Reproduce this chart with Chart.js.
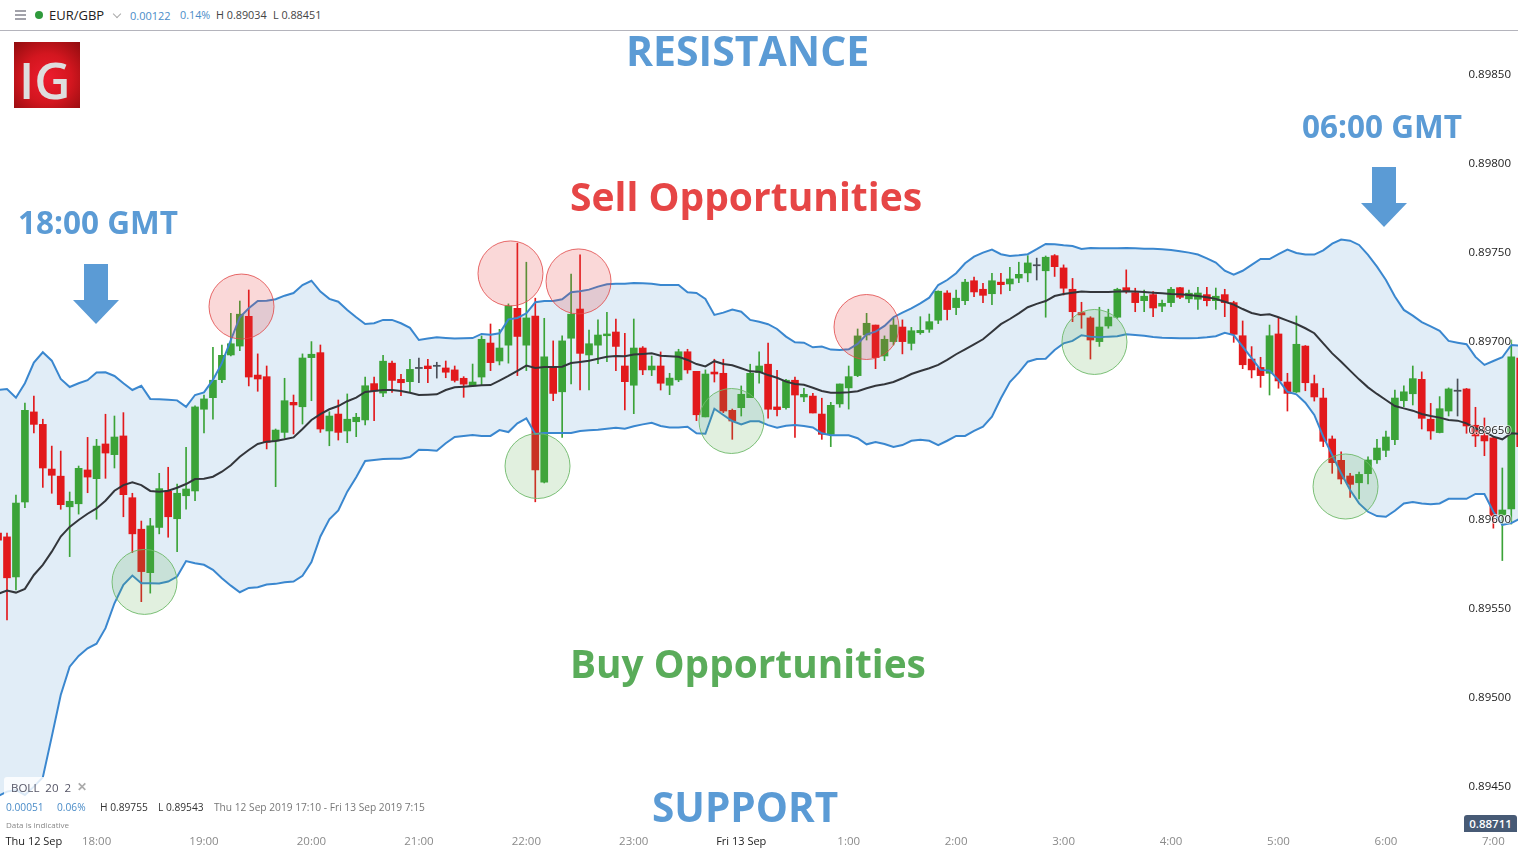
<!DOCTYPE html>
<html>
<head>
<meta charset="utf-8">
<title>EUR/GBP</title>
<script src="https://cdn.jsdelivr.net/npm/chart.js@4"></script>
<style>
html,body{margin:0;padding:0;background:#fff;overflow:hidden;width:1518px;height:850px}
body{position:relative;font-family:"Open Sans",sans-serif}
canvas{position:absolute;left:0;top:0}
.t{position:absolute;white-space:nowrap;line-height:1}
.note{font-weight:700}
.blue{color:#5b9bd5}
.arrow{position:absolute;width:46px;height:60px;background:#5b9bd5;clip-path:polygon(11px 0,35px 0,35px 36px,46px 36px,23px 60px,0 36px,11px 36px)}
#head{position:absolute;left:0;top:0;width:1518px;height:30px;border-bottom:1px solid #b4b4bc;background:#fff}
#burger{position:absolute;left:15px;top:10px;width:11px;height:2px;background:#a2a2aa;box-shadow:0 4px 0 #a2a2aa,0 8px 0 #a2a2aa}
#dot{position:absolute;left:35px;top:11px;width:8px;height:8px;border-radius:50%;background:#2f9a3c}
#chev{position:absolute;left:114px;top:11px;width:5px;height:5px;border-right:1.5px solid #aaa;border-bottom:1.5px solid #aaa;transform:rotate(45deg)}
#logo{position:absolute;left:14px;top:42px;width:66px;height:66px;background:radial-gradient(circle at 50% 55%,#ee1c2e 0,#d3161f 50%,#8f0c0e 100%);overflow:hidden}
#logo span{position:absolute;left:5px;top:13px;font:600 50px/1 "Open Sans",sans-serif;color:#dedede}
#boll{position:absolute;left:4px;top:777px;width:90px;height:20px;background:rgba(255,255,255,.82);border-radius:3px}
#badge{position:absolute;left:1464px;top:815px;width:53px;height:17px;background:#475a75;border-radius:3px 3px 0 0;color:#fff;font-size:11.5px;font-weight:600;line-height:17px;text-align:center}
</style>
</head>
<body>
<canvas id="chart" width="1518" height="850"></canvas>

<div id="head">
  <div id="burger"></div><div id="dot"></div>
  <div class="t" style="left:49px;top:9px;font-size:13px;color:#222">EUR/GBP</div>
  <div id="chev"></div>
  <div class="t" style="left:130px;top:10px;font-size:11px;color:#4a8cc8">0.00122</div>
  <div class="t" style="left:180px;top:10px;font-size:10.8px;color:#4a8cc8">0.14%</div>
  <div class="t" style="left:216px;top:10px;font-size:10.8px;color:#444">H 0.89034</div>
  <div class="t" style="left:273px;top:10px;font-size:10.8px;color:#444">L 0.88451</div>
</div>
<div id="logo"><span>IG</span></div>

<div class="t note blue" style="left:626px;top:30px;font-size:41px">RESISTANCE</div>
<div class="t note" style="left:570px;top:176px;font-size:39px;color:#e64646">Sell Opportunities</div>
<div class="t note" style="left:570px;top:644px;font-size:38.8px;color:#5aac5a">Buy Opportunities</div>
<div class="t note blue" style="left:652px;top:787px;font-size:40.5px">SUPPORT</div>
<div class="t note blue" style="left:18px;top:206px;font-size:31.5px">18:00 GMT</div>
<div class="t note blue" style="left:1302px;top:110px;font-size:31.5px">06:00 GMT</div>
<div class="arrow" style="left:73px;top:264px"></div>
<div class="arrow" style="left:1361px;top:167px"></div>

<div id="boll"></div>
<div class="t" style="left:11px;top:782px;font-size:11.5px;color:#556">BOLL&nbsp; 20&nbsp; 2</div>
<div class="t" style="left:77px;top:781px;font-size:12px;color:#aaa;font-weight:700">✕</div>
<div class="t" style="left:6px;top:802px;font-size:10.2px;color:#4a8cc8">0.00051</div>
<div class="t" style="left:57px;top:802px;font-size:10.2px;color:#4a8cc8">0.06%</div>
<div class="t" style="left:100px;top:802px;font-size:10.2px;color:#333">H 0.89755</div>
<div class="t" style="left:158px;top:802px;font-size:10.2px;color:#333">L 0.89543</div>
<div class="t" style="left:214px;top:802px;font-size:10.2px;color:#777">Thu 12 Sep 2019 17:10 - Fri 13 Sep 2019 7:15</div>
<div class="t" style="left:6px;top:821px;font-size:8px;color:#888">Data is indicative</div>
<div id="badge">0.88711</div>

<script>
// 5 min candles, the first one is cut off by the left edge so candle numbers start at -1
const opens = [0.895927,0.895905,0.895680,0.896101,0.896607,0.896537,0.896286,0.896246,0.896074,0.896091,0.896281,
0.896232,0.896427,0.896367,0.896472,0.896125,0.895948,0.895704,0.895958,0.896161,0.896007,
0.896136,0.896163,0.896622,0.896687,0.896788,0.896927,0.896977,0.897144,0.896814,0.896805,
0.896444,0.896492,0.896661,0.896636,0.896912,0.896940,0.896500,0.896595,0.896500,0.896552,
0.896562,0.896766,0.896713,0.896881,0.896790,0.896777,0.896851,0.896865,0.896863,0.896854,
0.896843,0.896796,0.896753,0.896803,0.896994,0.896893,0.896982,0.897189,0.896982,0.897146,
0.896212,0.896861,0.896720,0.897021,0.897185,0.896927,0.896982,0.897035,0.897056,0.896865,
0.896757,0.896966,0.896843,0.896865,0.896757,0.896787,0.896945,0.896835,0.896579,0.896831,
0.896824,0.896616,0.896631,0.896687,0.896828,0.896875,0.896635,0.896631,0.896785,0.896691,
0.896696,0.896595,0.896481,0.896652,0.896742,0.896811,0.897039,0.897095,0.896921,0.897002,
0.897084,0.896992,0.897052,0.897071,0.897122,0.897275,0.897193,0.897232,0.897344,0.897296,
0.897271,0.897336,0.897326,0.897359,0.897388,0.897428,0.897400,0.897485,0.897416,0.897296,
0.897165,0.897135,0.897002,0.897090,0.897139,0.897305,0.897277,0.897232,0.897266,0.897201,
0.897221,0.897305,0.897242,0.897240,0.897266,0.897232,0.897266,0.897221,0.897035,0.896904,
0.896857,0.896824,0.897045,0.896775,0.896719,0.896977,0.896766,0.896685,0.896455,0.896335,
0.896247,0.896209,0.896260,0.896338,0.896391,0.896451,0.896670,0.896709,0.896790,0.896566,
0.896491,0.896612,0.896723,0.896736,0.896532,0.896474,0.896461,0.896028,0.896062,0.896909]

const closes = [0.895887,0.895675,0.896095,0.896616,0.896537,0.896292,0.896251,0.896086,0.896105,0.896290,0.896241,
0.896415,0.896376,0.896466,0.896142,0.895922,0.895710,0.895967,0.896176,0.896018,0.896150,
0.896174,0.896635,0.896680,0.896785,0.896925,0.896990,0.897156,0.896803,0.896792,0.896436,
0.896505,0.896670,0.896646,0.896910,0.896931,0.896511,0.896584,0.896492,0.896566,0.896577,
0.896754,0.896725,0.896892,0.896784,0.896771,0.896846,0.896857,0.896850,0.896869,0.896830,
0.896784,0.896763,0.896775,0.897015,0.896884,0.896966,0.897202,0.897031,0.897135,0.896281,
0.896916,0.896711,0.897006,0.897156,0.896936,0.896990,0.897039,0.897045,0.896975,0.896777,
0.896966,0.896843,0.896865,0.896768,0.896797,0.896945,0.896843,0.896591,0.896820,0.896820,
0.896612,0.896556,0.896706,0.896824,0.896865,0.896622,0.896620,0.896785,0.896702,0.896706,
0.896601,0.896481,0.896644,0.896764,0.896805,0.897034,0.897105,0.896912,0.897015,0.897095,
0.897002,0.897063,0.897065,0.897114,0.897285,0.897182,0.897246,0.897336,0.897281,0.897262,
0.897344,0.897322,0.897354,0.897380,0.897444,0.897434,0.897476,0.897423,0.897302,0.897170,
0.897152,0.897011,0.897084,0.897140,0.897296,0.897283,0.897221,0.897257,0.897191,0.897217,
0.897296,0.897251,0.897274,0.897275,0.897232,0.897257,0.897221,0.897043,0.896872,0.896843,
0.896811,0.897035,0.896781,0.896711,0.896987,0.896771,0.896691,0.896442,0.896322,0.896230,
0.896200,0.896256,0.896337,0.896404,0.896466,0.896685,0.896720,0.896794,0.896571,0.896500,
0.896625,0.896736,0.896729,0.896528,0.896472,0.896444,0.896022,0.896056,0.896916,0.896412]

const highs = [0.895938,0.895927,0.896140,0.896657,0.896696,0.896566,0.896415,0.896387,0.896157,0.896303,0.896464,
0.896453,0.896594,0.896584,0.896603,0.896150,0.895994,0.896009,0.896262,0.896296,0.896202,
0.896408,0.896641,0.896702,0.896970,0.896983,0.897161,0.897230,0.897292,0.896933,0.896865,
0.896511,0.896796,0.896702,0.896933,0.897002,0.896983,0.896608,0.896674,0.896708,0.896599,
0.896803,0.896803,0.896925,0.896893,0.896818,0.896903,0.896910,0.896903,0.896886,0.896893,
0.896865,0.896805,0.896876,0.897034,0.897101,0.897071,0.897214,0.897555,0.897448,0.897246,
0.897133,0.897006,0.897034,0.897381,0.897489,0.897067,0.897124,0.897167,0.897129,0.897049,
0.897129,0.896974,0.896921,0.896944,0.896824,0.896959,0.896959,0.896835,0.896843,0.896903,
0.896903,0.896623,0.896753,0.896875,0.896944,0.896994,0.896841,0.896790,0.896803,0.896740,
0.896711,0.896684,0.896661,0.896764,0.896865,0.897073,0.897161,0.897095,0.897034,0.897133,
0.897124,0.897082,0.897142,0.897157,0.897287,0.897288,0.897292,0.897352,0.897364,0.897330,
0.897386,0.897386,0.897420,0.897448,0.897485,0.897471,0.897483,0.897491,0.897433,0.897357,
0.897223,0.897142,0.897195,0.897184,0.897302,0.897405,0.897302,0.897292,0.897283,0.897236,
0.897307,0.897307,0.897292,0.897307,0.897307,0.897303,0.897296,0.897229,0.897118,0.896974,
0.896914,0.897095,0.897133,0.896824,0.897146,0.896980,0.896814,0.896740,0.896472,0.896383,
0.896262,0.896269,0.896355,0.896453,0.896500,0.896730,0.896753,0.896865,0.896832,0.896655,
0.896693,0.896742,0.896792,0.896739,0.896633,0.896573,0.896464,0.896292,0.897011,0.896927]

const lows = [0.895876,0.895439,0.895607,0.896069,0.896489,0.896183,0.896150,0.896060,0.895794,0.896033,0.896153,
0.896004,0.896234,0.896292,0.896018,0.895817,0.895541,0.895589,0.895922,0.895903,0.895822,
0.896060,0.896108,0.896489,0.896566,0.896771,0.896921,0.896951,0.896753,0.896723,0.896399,
0.896187,0.896459,0.896483,0.896539,0.896670,0.896492,0.896417,0.896449,0.896434,0.896468,
0.896534,0.896558,0.896693,0.896717,0.896698,0.896720,0.896771,0.896771,0.896797,0.896799,
0.896775,0.896689,0.896750,0.896758,0.896839,0.896871,0.896881,0.896811,0.896839,0.896102,
0.896208,0.896670,0.896464,0.896764,0.896731,0.896731,0.896878,0.896889,0.896839,0.896618,
0.896597,0.896816,0.896811,0.896730,0.896704,0.896777,0.896824,0.896558,0.896579,0.896775,
0.896603,0.896453,0.896584,0.896687,0.896768,0.896572,0.896584,0.896623,0.896464,0.896664,
0.896601,0.896453,0.896412,0.896633,0.896623,0.896805,0.897011,0.896850,0.896895,0.896983,
0.896933,0.896955,0.897043,0.897054,0.897103,0.897124,0.897153,0.897210,0.897255,0.897221,
0.897210,0.897270,0.897288,0.897333,0.897338,0.897348,0.897139,0.897368,0.897264,0.897114,
0.897077,0.896904,0.896975,0.897077,0.897133,0.897274,0.897170,0.897170,0.897142,0.897170,
0.897198,0.897243,0.897221,0.897183,0.897202,0.897183,0.897142,0.896998,0.896850,0.896798,
0.896745,0.896702,0.896740,0.896612,0.896716,0.896726,0.896668,0.896412,0.896262,0.896202,
0.896127,0.896118,0.896202,0.896318,0.896355,0.896423,0.896636,0.896646,0.896511,0.896453,
0.896489,0.896584,0.896584,0.896487,0.896412,0.896361,0.895954,0.895772,0.895977,0.896393]

// bollinger 20 2
const upperBand = [0.896730,0.896736,0.896687,0.896768,0.896884,0.896942,0.896895,0.896792,0.896747,0.896768,0.896785,
0.896828,0.896830,0.896809,0.896768,0.896730,0.896754,0.896680,0.896678,0.896676,0.896672,
0.896636,0.896702,0.896717,0.896787,0.896881,0.897011,0.897139,0.897189,0.897230,0.897232,
0.897240,0.897260,0.897275,0.897320,0.897344,0.897283,0.897242,0.897226,0.897180,0.897139,
0.897101,0.897105,0.897124,0.897124,0.897105,0.897079,0.897011,0.897019,0.897026,0.897022,
0.897019,0.897021,0.897022,0.897045,0.897041,0.897049,0.897127,0.897135,0.897161,0.897223,
0.897230,0.897230,0.897240,0.897279,0.897285,0.897294,0.897311,0.897324,0.897327,0.897327,
0.897331,0.897330,0.897327,0.897320,0.897320,0.897320,0.897279,0.897275,0.897242,0.897152,
0.897165,0.897182,0.897170,0.897124,0.897114,0.897100,0.897073,0.897030,0.896998,0.896996,
0.896970,0.896974,0.896957,0.896955,0.896959,0.896989,0.897043,0.897058,0.897090,0.897139,
0.897165,0.897189,0.897217,0.897249,0.897320,0.897348,0.897386,0.897442,0.897479,0.897502,
0.897519,0.897493,0.897483,0.897487,0.897493,0.897521,0.897551,0.897549,0.897543,0.897539,
0.897523,0.897528,0.897527,0.897527,0.897527,0.897528,0.897527,0.897524,0.897523,0.897521,
0.897517,0.897510,0.897502,0.897491,0.897470,0.897446,0.897400,0.897378,0.897400,0.897433,
0.897466,0.897466,0.897493,0.897519,0.897500,0.897491,0.897491,0.897515,0.897552,0.897575,
0.897569,0.897545,0.897489,0.897423,0.897348,0.897255,0.897180,0.897148,0.897112,0.897088,
0.897063,0.897006,0.896996,0.896987,0.896916,0.896871,0.896893,0.896914,0.896983,0.896979]

const lowerBand = [0.894449,0.894474,0.894483,0.894455,0.894502,0.894554,0.894783,0.895017,0.895176,0.895236,0.895279,
0.895305,0.895392,0.895532,0.895635,0.895688,0.895645,0.895645,0.895643,0.895654,0.895682,
0.895769,0.895757,0.895748,0.895720,0.895673,0.895631,0.895594,0.895618,0.895622,0.895637,
0.895641,0.895650,0.895654,0.895686,0.895763,0.895907,0.896004,0.896054,0.896159,0.896240,
0.896331,0.896337,0.896342,0.896344,0.896344,0.896354,0.896395,0.896393,0.896389,0.896431,
0.896466,0.896472,0.896477,0.896472,0.896472,0.896505,0.896494,0.896543,0.896571,0.896483,
0.896489,0.896489,0.896489,0.896489,0.896500,0.896504,0.896507,0.896513,0.896518,0.896513,
0.896526,0.896537,0.896546,0.896528,0.896520,0.896520,0.896524,0.896487,0.896484,0.896625,
0.896590,0.896556,0.896537,0.896554,0.896554,0.896533,0.896518,0.896529,0.896533,0.896528,
0.896520,0.896487,0.896476,0.896476,0.896476,0.896459,0.896425,0.896438,0.896427,0.896410,
0.896421,0.896445,0.896451,0.896445,0.896421,0.896445,0.896472,0.896472,0.896500,0.896524,
0.896580,0.896684,0.896775,0.896828,0.896889,0.896904,0.896906,0.896955,0.896992,0.897006,
0.897038,0.897030,0.897026,0.897030,0.897032,0.897043,0.897039,0.897035,0.897028,0.897024,
0.897022,0.897021,0.897021,0.897022,0.897026,0.897032,0.897051,0.897039,0.896974,0.896909,
0.896843,0.896839,0.896787,0.896720,0.896706,0.896659,0.896590,0.896468,0.896365,0.896262,
0.896168,0.896093,0.896046,0.896022,0.896018,0.896052,0.896093,0.896101,0.896093,0.896089,
0.896093,0.896119,0.896119,0.896119,0.896146,0.896146,0.896046,0.895972,0.895982,0.896009]

const midBand = [0.895585,0.895603,0.895592,0.895613,0.895691,0.895748,0.895822,0.895907,0.895961,0.896000,0.896035,
0.896065,0.896108,0.896164,0.896196,0.896212,0.896196,0.896163,0.896159,0.896164,0.896181,
0.896202,0.896230,0.896232,0.896243,0.896271,0.896307,0.896355,0.896393,0.896427,0.896440,
0.896444,0.896453,0.896464,0.896511,0.896562,0.896595,0.896622,0.896640,0.896667,0.896687,
0.896719,0.896725,0.896730,0.896730,0.896725,0.896715,0.896702,0.896704,0.896706,0.896730,
0.896745,0.896749,0.896753,0.896757,0.896758,0.896783,0.896809,0.896837,0.896867,0.896854,
0.896860,0.896860,0.896861,0.896882,0.896888,0.896895,0.896906,0.896917,0.896921,0.896920,
0.896929,0.896933,0.896936,0.896923,0.896920,0.896917,0.896899,0.896876,0.896863,0.896892,
0.896876,0.896869,0.896852,0.896835,0.896833,0.896814,0.896799,0.896777,0.896764,0.896760,
0.896743,0.896725,0.896715,0.896715,0.896717,0.896723,0.896740,0.896754,0.896762,0.896775,
0.896796,0.896820,0.896837,0.896852,0.896871,0.896899,0.896931,0.896959,0.896987,0.897015,
0.897058,0.897100,0.897129,0.897161,0.897195,0.897214,0.897230,0.897258,0.897270,0.897277,
0.897283,0.897281,0.897281,0.897281,0.897283,0.897285,0.897283,0.897281,0.897277,0.897274,
0.897270,0.897268,0.897264,0.897258,0.897251,0.897242,0.897226,0.897210,0.897185,0.897163,
0.897152,0.897156,0.897139,0.897120,0.897101,0.897077,0.897049,0.896992,0.896936,0.896889,
0.896839,0.896790,0.896745,0.896708,0.896674,0.896640,0.896627,0.896614,0.896595,0.896584,
0.896575,0.896562,0.896558,0.896543,0.896515,0.896496,0.896468,0.896453,0.896487,0.896483]

// highlighted touches of the bands, candle number and price
const sellIdx = [26.19,56.23,63.83,95.99]
const sellPrice = [0.897199,0.897385,0.897340,0.897084]
const buyIdx = [15.36,59.25,80.91,121.45,149.49]
const buyPrice = [0.895652,0.896303,0.896556,0.897000,0.896188]

const xTickIdx = [3,10,22,34,46,58,70,82,94,106,118,130,142,154,166]
const xTickLabels = ['Thu 12 Sep','18:00','19:00','20:00','21:00','22:00','23:00','Fri 13 Sep','1:00','2:00','3:00','4:00','5:00','6:00','7:00']
const dateTicks = [3,82]
const yTicks = [0.8945,0.895,0.8955,0.896,0.8965,0.897,0.8975,0.898,0.8985]

const RED = '#e2191c', GREEN = '#3ba338', DOJI = '#4a4f58'
const candleColor = opens.map((o,i) => {
  if (Math.abs(closes[i]-o) < 0.000007) return DOJI
  return closes[i] > o ? GREEN : RED
})
const series = vals => vals.map((v,i) => ({x:i-1, y:v}))
const circle = (xs,ys) => xs.map((x,i) => ({x:x, y:ys[i]}))
const fontFam = '"Open Sans", sans-serif'
// the scales ask for room for their end labels, we want the plot edge to edge
const noPad = axis => { axis.paddingLeft = axis.paddingRight = axis.paddingTop = axis.paddingBottom = 0 }

new Chart(document.getElementById('chart'), {
  type: 'bar',
  data: {
    datasets: [
      {type:'scatter', data:circle(sellIdx,sellPrice), pointRadius:32.5, pointHoverRadius:32.5, backgroundColor:'rgba(230,60,60,.2)', borderColor:'rgba(225,70,70,.8)', borderWidth:1},
      {type:'scatter', data:circle(buyIdx,buyPrice), pointRadius:32.5, pointHoverRadius:32.5, backgroundColor:'rgba(90,170,80,.18)', borderColor:'rgba(110,185,105,.9)', borderWidth:1},
      {type:'line', data:series(midBand), borderColor:'#33363b', borderWidth:2, pointRadius:0, tension:0},
      {type:'line', data:series(upperBand), borderColor:'#3a87cf', borderWidth:2, pointRadius:0, tension:0, fill:'+1', backgroundColor:'#e1edf7'},
      {type:'line', data:series(lowerBand), borderColor:'#3a87cf', borderWidth:2, pointRadius:0, tension:0},
      {type:'bar', grouped:false, barThickness:7, data:opens.map((o,i) => ({x:i-1, y:[o,closes[i]]})), backgroundColor:candleColor, borderWidth:0},
      {type:'bar', grouped:false, barThickness:1, data:lows.map((l,i) => ({x:i-1, y:[l,highs[i]]})), backgroundColor:candleColor, borderWidth:0}
    ]
  },
  options: {
    responsive: false,
    animation: false,
    layout: {autoPadding:false, padding: {top:31, left:0, right:0, bottom:0}},
    plugins: {
      legend: {display:false},
      tooltip: {enabled:false},
      filler: {drawTime:'beforeDatasetsDraw'}
    },
    scales: {
      x: {
        type: 'linear',
        offset: false,
        min: -0.7818,
        max: 168.75,
        grid: {display:false, drawTicks:false},
        border: {display:false},
        afterBuildTicks: axis => { axis.ticks = xTickIdx.map(v => ({value:v})) },
        afterFit: axis => { axis.height = 18; noPad(axis) },
        ticks: {
          autoSkip: false,
          maxRotation: 0,
          padding: 3,
          font: ctx => ({family:fontFam, size: dateTicks.includes(ctx.tick && ctx.tick.value) ? 11 : 11.5}),
          color: ctx => dateTicks.includes(ctx.tick.value) ? '#222' : '#8a8a8a',
          callback: v => xTickLabels[xTickIdx.indexOf(v)]
        }
      },
      y: {
        position: 'right',
        min: 0.894247,
        max: 0.898747,
        grid: {display:false, drawTicks:false},
        border: {display:false},
        afterBuildTicks: axis => { axis.ticks = yTicks.map(v => ({value:v})) },
        afterFit: axis => { axis.width = 0; noPad(axis) },
        ticks: {
          z: 1,
          mirror: true,
          padding: -7,
          font: {family:fontFam, size:11.5},
          color: '#222',
          textStrokeColor: 'rgba(255,255,255,.6)',
          textStrokeWidth: 2,
          callback: v => v.toFixed(5)
        }
      }
    }
  }
})
</script>
</body>
</html>
